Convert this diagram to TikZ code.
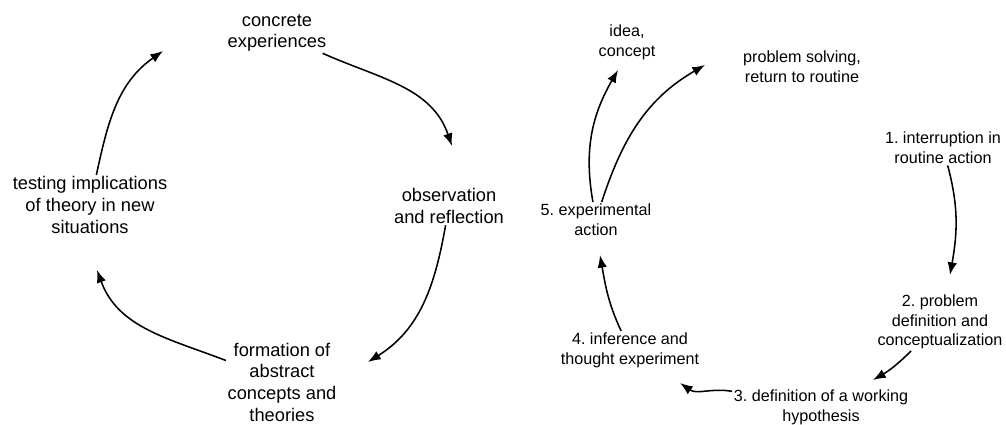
\documentclass[tikz,border=0pt]{standalone}
\usepackage{fontspec}
\setmainfont{Liberation Sans}
\usetikzlibrary{positioning, arrows.meta}

\begin{document}
\frenchspacing
\begin{tikzpicture}[
  x=0.025cm, y=0.025cm,
  kolb/.style={align=center, inner sep=1pt, font=\fontsize{13}{15.4}\selectfont},
  dewey/.style={align=center, inner sep=1pt, font=\fontsize{11.5}{14}\selectfont},
  arr/.style={-{Latex[length=9pt,width=6.8pt]}, line width=1.1pt}
]
  \useasboundingbox (0,0) rectangle (1006,425);

  % learning cycle (left)
  \node[kolb] (ce) at (277,392) {concrete\\experiences};
  \node[kolb] (or) at (449,219) {observation\\and reflection};
  \node[kolb] (fa) at (282,43)  {formation of\\abstract\\concepts and\\theories};
  \node[kolb] (ti) at (90,220)  {testing implications\\of theory in new\\situations};

  \draw[arr] ([shift={(68,-8)}]ce)  to[out=-24, in=109] ([shift={(3,60)}]or);
  \draw[arr] ([shift={(3,-32)}]or)  to[out=-100, in=32] ([shift={(86,20)}]fa);
  \draw[arr] ([shift={(-75,7)}]fa)  to[out=159, in=-70] ([shift={(7,-65)}]ti);
  \draw[arr] ([shift={(0,37)}]ti)   to[out=78, in=-145]  ([shift={(-114,-18)}]ce);

  % inquiry cycle (right)
  \node[dewey] (idea) at (627,383)   {idea,\\concept};
  \node[dewey] (ps)   at (802,358.5) {problem solving,\\return to routine};
  \node[dewey] (s1)   at (943,277)   {1. interruption in\\routine action};
  \node[dewey] (s2)   at (940,103)   {2. problem\\definition and\\conceptualization};
  \node[dewey] (s3)   at (821,18)    {3. definition of a working\\hypothesis};
  \node[dewey] (s4)   at (630,75)    {4. inference and\\thought experiment};
  \node[dewey] (s5)   at (596,205.5) {5. experimental\\action};

  \draw[arr] ([shift={(5,-24)}]s1)    to[out=-75, in=80]  ([shift={(10,47)}]s2);
  \draw[arr] ([shift={(-25,-33)}]s2)  to[out=-135, in=30] ([shift={(52,27)}]s3);
  \draw[arr] ([shift={(-88,2)}]s3)    to[out=170, in=-35] ([shift={(50,-33)}]s4);
  \draw[arr] ([shift={(-3,23)}]s4)    to[out=115, in=-80] ([shift={(4,-35.5)}]s5);
  \draw[arr] ([shift={(4,44.5)}]s5)   to[out=100, in=-120] ([shift={(-9,-28)}]idea);
  \draw[arr] ([shift={(8,29.5)}]s5)   to[out=72, in=-150] ([shift={(-97,1.5)}]ps);
\end{tikzpicture}
\end{document}
